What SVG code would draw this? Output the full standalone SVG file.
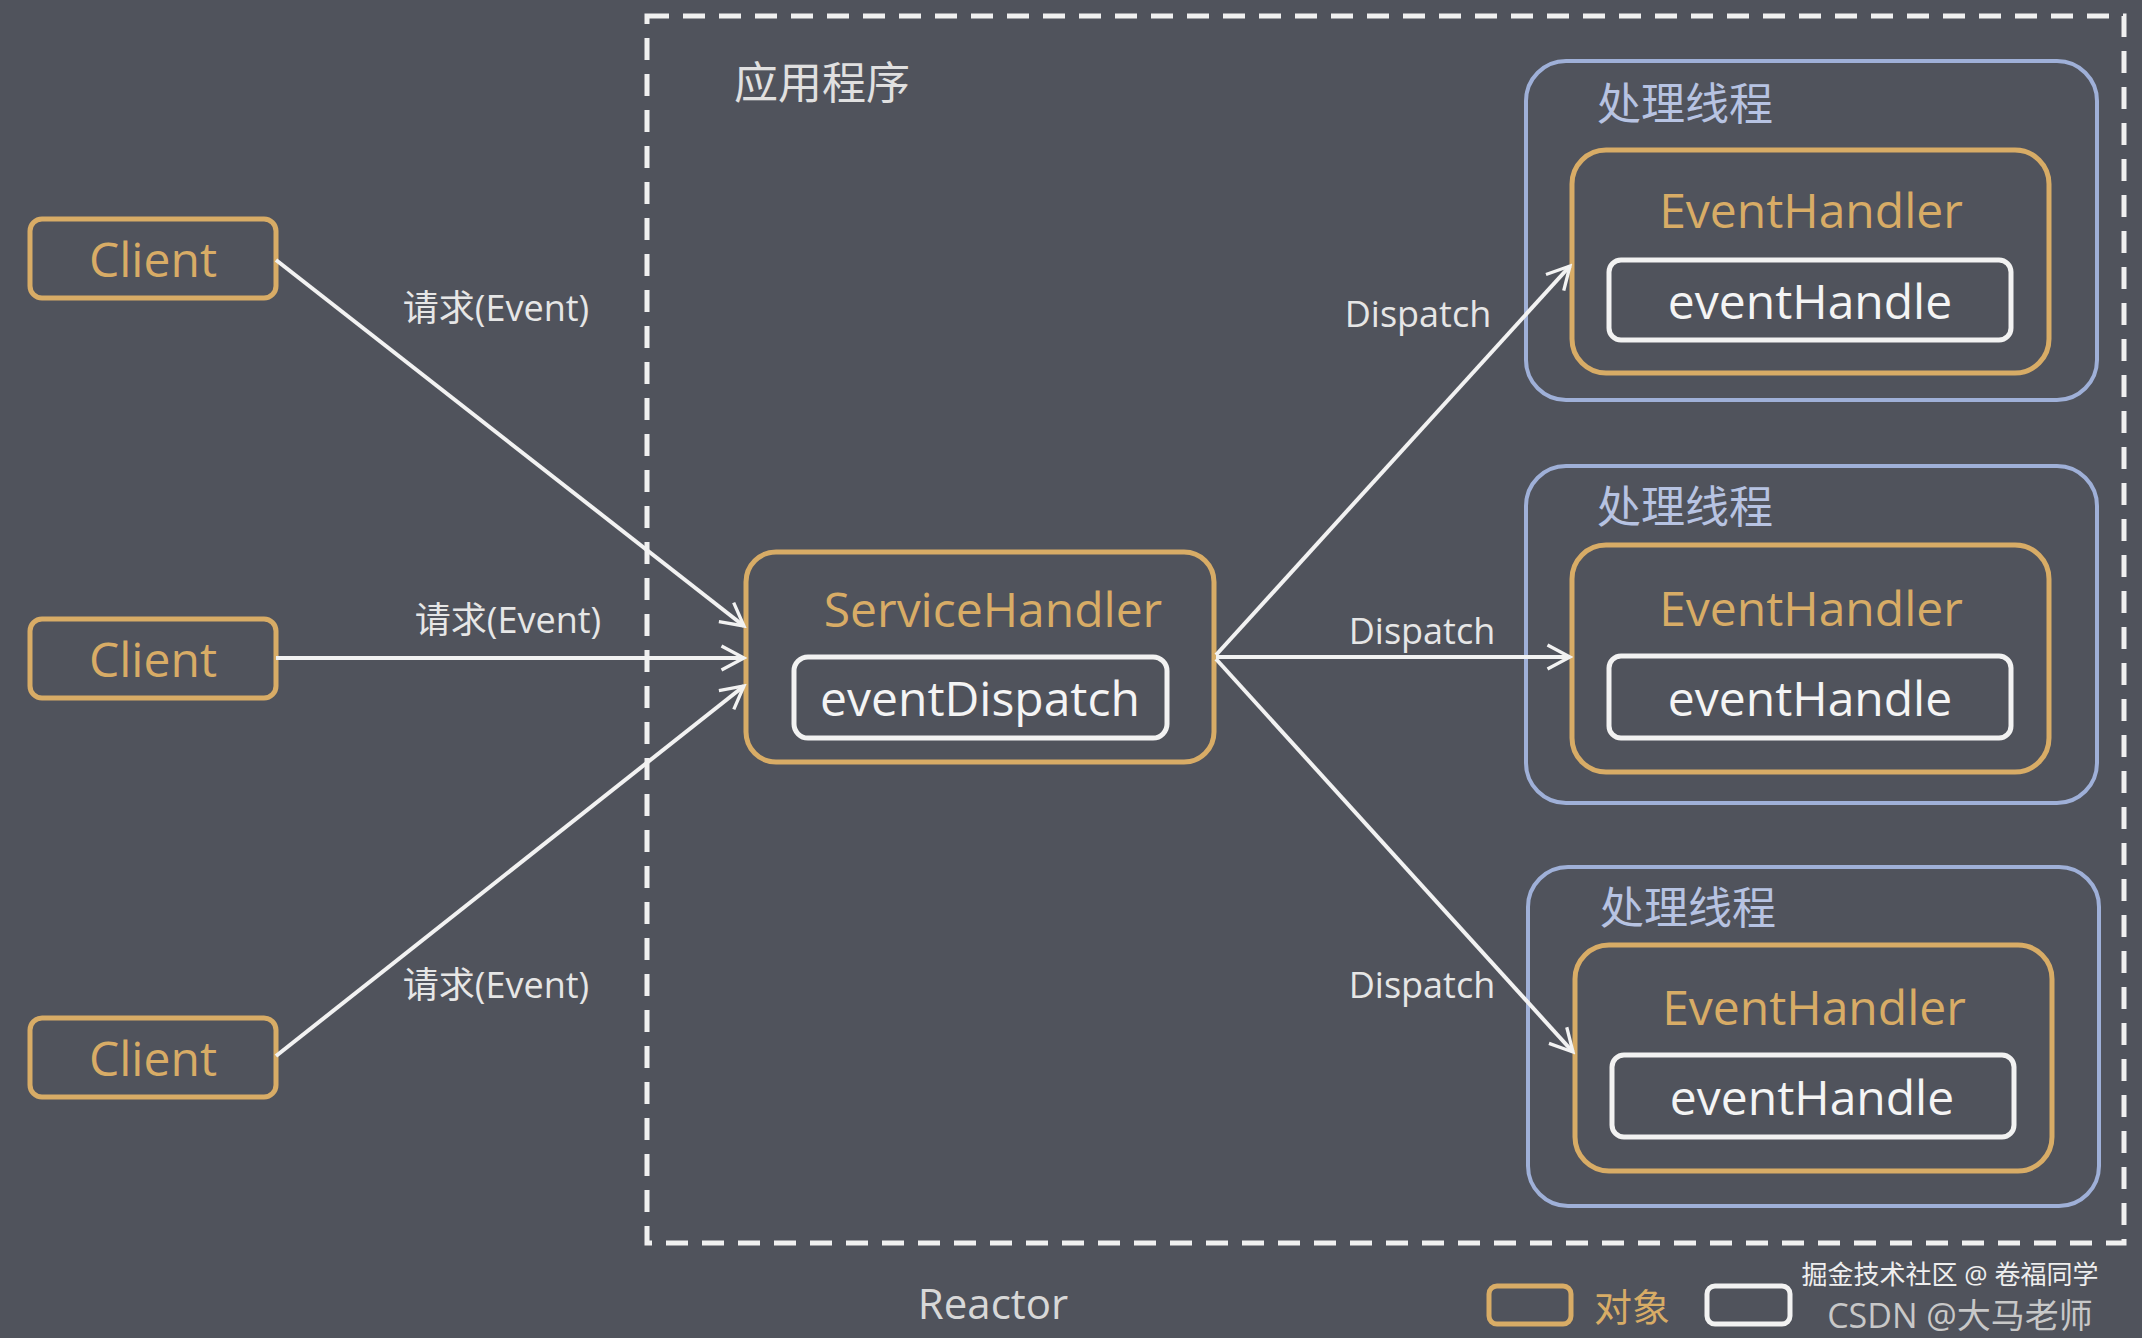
<svg xmlns="http://www.w3.org/2000/svg" width="2142" height="1338" viewBox="0 0 2142 1338">
<defs>
<style>
text{font-family:"Open Sans","Noto Sans","Noto Sans CJK SC",sans-serif;text-anchor:middle;dominant-baseline:central}
.gold{fill:none;stroke:#d8ac66;stroke-width:5}
.white{fill:none;stroke:#f2f2f2;stroke-width:5}
.blue{fill:none;stroke:#9fb0d8;stroke-width:4}
.gt{fill:#d8ac66;font-size:48px}
.wt{fill:#f4f4f4;font-size:48px}
.lt{fill:#e6e6e6;font-size:36px}
.ct{fill:#e0e0e0;font-size:44px}
.conn line{stroke:#f2f2f2;stroke-width:4;marker-end:url(#arr)}
</style>
<marker id="arr" viewBox="0 0 20 20" refX="18" refY="10" markerWidth="30" markerHeight="30" orient="auto" markerUnits="userSpaceOnUse">
<path d="M3,2 L18,10 L3,18" fill="none" stroke="#f2f2f2" stroke-width="2.2"/>
</marker>
</defs>
<rect width="2142" height="1338" fill="#50535c"/>
<g id="reactor">
<rect x="647" y="16" width="1477" height="1227" fill="none" stroke="#f0f0f0" stroke-width="5" stroke-dasharray="22,14"/>
<text x="822" y="82" class="ct">应用程序</text>
<text x="993" y="1302" style="fill:#d8d8d8;font-size:42px">Reactor</text>
</g>
<g id="client1"><rect x="30" y="219" width="246" height="79" rx="12" class="gold"/><text x="153" y="258" class="gt">Client</text></g>
<g id="client2"><rect x="30" y="619" width="246" height="79" rx="12" class="gold"/><text x="153" y="658" class="gt">Client</text></g>
<g id="client3"><rect x="30" y="1018" width="246" height="79" rx="12" class="gold"/><text x="153" y="1057" class="gt">Client</text></g>
<g id="serviceHandler">
<rect x="746" y="552" width="468" height="210" rx="30" class="gold"/>
<text x="993" y="608" class="gt">ServiceHandler</text>
<rect x="794" y="657" width="373" height="81" rx="14" class="white"/>
<text x="980" y="697" class="wt">eventDispatch</text>
</g>
<g id="thread1">
<rect x="1526" y="61" width="571" height="339" rx="40" class="blue"/>
<text x="1685" y="103" class="ct" style="fill:#b7c3e2">处理线程</text>
<rect x="1572" y="150" width="477" height="223" rx="34" class="gold"/>
<text x="1811" y="209" class="gt">EventHandler</text>
<rect x="1609" y="260" width="402" height="80" rx="12" class="white"/>
<text x="1810" y="300" class="wt">eventHandle</text>
</g>
<g id="thread2">
<rect x="1526" y="466" width="571" height="337" rx="40" class="blue"/>
<text x="1685" y="506" class="ct" style="fill:#b7c3e2">处理线程</text>
<rect x="1572" y="545" width="477" height="227" rx="34" class="gold"/>
<text x="1811" y="607" class="gt">EventHandler</text>
<rect x="1609" y="656" width="402" height="82" rx="12" class="white"/>
<text x="1810" y="697" class="wt">eventHandle</text>
</g>
<g id="thread3">
<rect x="1528" y="867" width="571" height="339" rx="40" class="blue"/>
<text x="1688" y="907" class="ct" style="fill:#b7c3e2">处理线程</text>
<rect x="1575" y="945" width="477" height="226" rx="34" class="gold"/>
<text x="1814" y="1006" class="gt">EventHandler</text>
<rect x="1612" y="1055" width="402" height="82" rx="12" class="white"/>
<text x="1812" y="1096" class="wt">eventHandle</text>
</g>
<g id="connectors" class="conn">
<line x1="276" y1="260" x2="744" y2="626"/>
<line x1="276" y1="658" x2="744" y2="658"/>
<line x1="276" y1="1056" x2="744" y2="686"/>
<line x1="1216" y1="655" x2="1570" y2="266"/>
<line x1="1216" y1="657" x2="1570" y2="657"/>
<line x1="1216" y1="659" x2="1573" y2="1052"/>
</g>
<g id="labels">
<text x="496" y="307" class="lt">请求(Event)</text>
<text x="508" y="619" class="lt">请求(Event)</text>
<text x="496" y="984" class="lt">请求(Event)</text>
<text x="1418" y="313" class="lt">Dispatch</text>
<text x="1422" y="630" class="lt">Dispatch</text>
<text x="1422" y="984" class="lt">Dispatch</text>
</g>
<g id="legend">
<rect x="1489" y="1286" width="82" height="38" rx="8" class="gold"/>
<text x="1632" y="1306" style="fill:#d8ac66;font-size:38px">对象</text>
<rect x="1707" y="1286" width="83" height="38" rx="8" class="white"/>
<text x="1950" y="1274" style="fill:#eeeeee;font-size:26px">掘金技术社区 @ 卷福同学</text>
<text x="1960" y="1315" style="fill:#c8c8c8;font-size:34px">CSDN @大马老师</text>
</g>
</svg>
